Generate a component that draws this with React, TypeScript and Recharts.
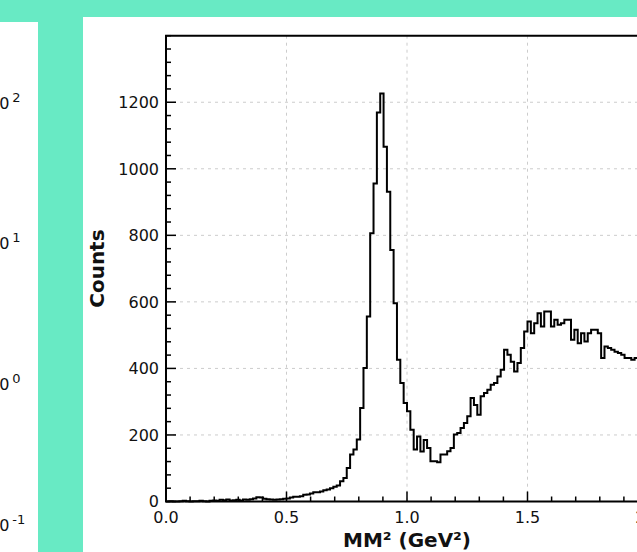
import React from 'react';
import {
  ComposedChart, LineChart, Line, XAxis, YAxis, CartesianGrid, ReferenceArea,
} from 'recharts';

const TEAL = '#68eac4';
const FONT = 'DejaVu Sans, sans-serif';

// missing-mass-squared histogram, 144 bins over 0..2 GeV^2
const binWidth = 2 / 144;
const counts = [
  0, 1, 0, 0, 1, 2, 1, 0, 1, 1,
  2, 1, 0, 2, 3, 2, 5, 4, 6, 3,
  4, 5, 3, 6, 5, 7, 9, 13, 12, 8,
  7, 6, 5, 6, 7, 8,
  9, 12, 14, 14, 16, 20,
  21, 24, 28, 28, 30, 34,
  36, 40, 44, 48,
  61, 71, 101, 141, 156, 186,
  281, 401, 556, 806, 956, 1169,
  1226, 1066, 931, 756, 596, 426,
  356, 296, 271, 216, 156, 195,
  150, 185, 161, 121, 121, 118,
  141, 141, 151, 161, 201, 206,
  221, 236, 256, 311, 290, 261,
  316, 326, 336, 351, 356, 376,
  396, 456, 441, 420, 391, 416,
  461, 511, 541, 506, 536, 566,
  526, 571, 571, 526, 546, 531,
  536, 546, 546, 486, 516, 476,
  506, 481, 506, 516, 516, 506,
  431, 466, 461, 456, 450, 446,
  441, 431, 431, 426, 431, 426, 430, 420,
];

const xMajorTicks = [0, 0.5, 1.0, 1.5, 2.0];
const xMinorTicks = [0, 0.1, 0.2, 0.3, 0.4, 0.5, 0.6, 0.7, 0.8, 0.9, 1.0, 1.1, 1.2, 1.3, 1.4, 1.5, 1.6, 1.7, 1.8, 1.9, 2.0];
const yMajorTicks = [0, 200, 400, 600, 800, 1000, 1200];
const yMinorTicks = [0, 40, 80, 120, 160, 200, 240, 280, 320, 360, 400, 440, 480, 520, 560, 600, 640, 680, 720, 760, 800, 840, 880, 920, 960, 1000, 1040, 1080, 1120, 1160, 1200, 1240, 1280, 1320, 1360, 1400];

// cut-off log axis of the neighbouring panel
const leftLogTicks = [0.1, 1, 10, 100];

const histData = counts.map((c, i) => ({ x: i * binWidth, count: c }));
histData.push({ x: counts.length * binWidth, count: counts[counts.length - 1] });

const X_GAP = 10;
const Y_GAP = 7;
const isMajor = (v: number, majors: number[]) => majors.some((m) => Math.abs(m - v) < 1e-6);

// bottom axis: inward tick mark + label for major values
const XTick = ({ x, y, payload }: any) => {
  const major = isMajor(payload.value, xMajorTicks);
  const base = y - X_GAP;
  return (
    <g>
      <line x1={x} y1={base} x2={x} y2={base - (major ? 10 : 5)} stroke="#000" strokeWidth={1.5} />
      {major && (
        <text x={x} y={y} dy="0.71em" textAnchor="middle" fontSize={16} fill="#111" fontFamily={FONT}>
          {payload.value.toFixed(1)}
        </text>
      )}
    </g>
  );
};

// left axis: inward tick mark + label for major values
const YTick = ({ x, y, payload }: any) => {
  const major = isMajor(payload.value, yMajorTicks);
  const base = x + Y_GAP;
  return (
    <g>
      <line x1={base} y1={y} x2={base + (major ? 10 : 5)} y2={y} stroke="#000" strokeWidth={1.5} />
      {major && (
        <text x={x} y={y} dy="0.36em" textAnchor="end" fontSize={16} fill="#111" fontFamily={FONT}>
          {payload.value}
        </text>
      )}
    </g>
  );
};

const LogTick = ({ x, y, payload }: any) => {
  const exp = Math.round(Math.log10(payload.value));
  return (
    <text x={x - 51} y={y} dy="0.36em" fontSize={16} fill="#111" fontFamily={FONT}>
      10
      <tspan fontSize={13} dx={3} dy={-7}>{exp < 0 ? '-' + Math.abs(exp) : String(exp)}</tspan>
    </text>
  );
};

const YLabel = ({ viewBox }: any) => {
  const cx = viewBox.x + 14;
  const cy = viewBox.y + viewBox.height / 2;
  return (
    <text x={cx} y={cy} transform={`rotate(-90 ${cx} ${cy})`} textAnchor="middle"
      dominantBaseline="central" fontSize={20} fontWeight="bold" fill="#111" fontFamily={FONT}>
      Counts
    </text>
  );
};

const XLabel = ({ viewBox }: any) => {
  const cx = viewBox.x + viewBox.width / 2;
  const cy = viewBox.y + 38;
  return (
    <text x={cx} y={cy} textAnchor="middle" dominantBaseline="central"
      fontSize={20} fontWeight="bold" fill="#111" fontFamily={FONT}>
      MM² (GeV²)
    </text>
  );
};

export default function App() {
  return (
    <div style={{ position: 'absolute', left: 0, top: 0, width: 637, height: 552, background: TEAL, overflow: 'hidden', fontFamily: FONT }}>
      <div style={{ position: 'absolute', left: 0, top: 22, width: 38, height: 530, background: '#fff', overflow: 'hidden' }}>
        <LineChart width={60} height={530} data={leftLogTicks.map((v) => ({ v }))}
          margin={{ top: 80.8, right: 0, bottom: 26.4, left: 0 }}>
          <XAxis hide />
          <YAxis scale="log" type="number" domain={[0.1, 100]} ticks={leftLogTicks} width={40}
            tickLine={false} axisLine={false} tickSize={0} tickMargin={0} tick={<LogTick />}
            allowDataOverflow />
        </LineChart>
      </div>

      <div style={{ position: 'absolute', left: 83, top: 17, width: 554, height: 535, background: '#fff', overflow: 'hidden' }}>
        <ComposedChart width={600} height={535} data={histData}
          margin={{ top: 18.7, right: 35, bottom: 0, left: 0 }}>
          <CartesianGrid stroke="#cccccc" strokeDasharray="3 4"
            verticalValues={xMajorTicks} horizontalValues={yMajorTicks} />
          <XAxis dataKey="x" type="number" domain={[0, 2]} ticks={xMinorTicks} interval={0} height={50.5}
            tick={<XTick />} tickLine={false} axisLine={false} tickSize={0} tickMargin={X_GAP}
            label={<XLabel />} />
          <YAxis type="number" domain={[0, 1400]} ticks={yMinorTicks} interval={0} width={83}
            tick={<YTick />} tickLine={false} axisLine={false} tickSize={0} tickMargin={Y_GAP}
            label={<YLabel />} />
          <Line type="stepAfter" dataKey="count" stroke="#000" strokeWidth={2}
            dot={false} isAnimationActive={false} />
          <ReferenceArea x1={0} x2={2} y1={0} y2={1400} fill="none" stroke="#000" strokeWidth={2} />
        </ComposedChart>
      </div>
    </div>
  );
}
